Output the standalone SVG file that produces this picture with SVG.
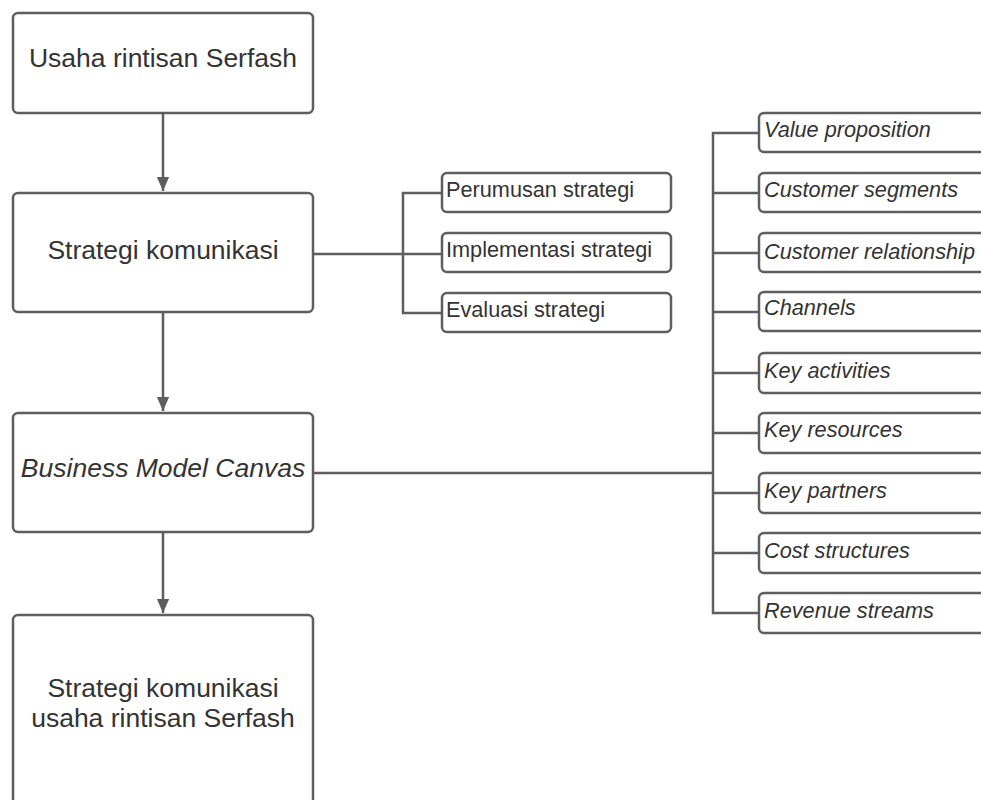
<svg xmlns="http://www.w3.org/2000/svg" width="981" height="800" viewBox="0 0 981 800">
<defs>
<style>
.box{fill:#fff;stroke:#5e5e5e;stroke-width:2.5}
.main{font-family:"Liberation Sans",Arial,sans-serif;font-size:26.5px;fill:#333;text-anchor:middle}
.small{font-family:"Liberation Sans",Arial,sans-serif;font-size:21.7px;fill:#333}
.it{font-style:italic}
.conn{fill:none;stroke:#5e5e5e;stroke-width:2.5}
</style>
<marker id="ah" markerWidth="14" markerHeight="17" refX="16" refY="7" orient="auto" markerUnits="userSpaceOnUse" viewBox="0 0 16 14">
<path d="M0,0 L16,7 L0,14 Z" fill="#5e5e5e"/>
</marker>
</defs>
<rect width="981" height="800" fill="#fff"/>
<g id="connectors">
<line class="conn" x1="163" y1="114" x2="163" y2="191" marker-end="url(#ah)"/>
<line class="conn" x1="163" y1="313" x2="163" y2="411" marker-end="url(#ah)"/>
<line class="conn" x1="163" y1="533" x2="163" y2="613" marker-end="url(#ah)"/>
<path class="conn" d="M313,254 H442 M442,193 H403 V313 H442"/>
<path class="conn" d="M313,473 H713 M759,133 H713 V613 H759 M713,193 H759 M713,253 H759 M713,312 H759 M713,373 H759 M713,433 H759 M713,493 H759 M713,553 H759"/>
</g>
<g id="n1"><rect class="box" x="13" y="13" width="300" height="100" rx="5"/><text class="main" x="163" y="67">Usaha rintisan Serfash</text></g>
<g id="n2"><rect class="box" x="13" y="193" width="300" height="119" rx="5"/><text class="main" x="163" y="259">Strategi komunikasi</text></g>
<g id="n3"><rect class="box" x="13" y="413" width="300" height="119" rx="5"/><text class="main it" x="163" y="477">Business Model Canvas</text></g>
<g id="n4"><rect class="box" x="13" y="615" width="300" height="200" rx="5"/><text class="main" x="163" y="697">Strategi komunikasi</text><text class="main" x="163" y="727">usaha rintisan Serfash</text></g>
<g id="s1"><rect class="box" x="442" y="173" width="229" height="39" rx="5"/><text class="small" x="446" y="197">Perumusan strategi</text></g>
<g id="s2"><rect class="box" x="442" y="233" width="229" height="39" rx="5"/><text class="small" x="446" y="257">Implementasi strategi</text></g>
<g id="s3"><rect class="box" x="442" y="293" width="229" height="39" rx="5"/><text class="small" x="446" y="317">Evaluasi strategi</text></g>
<g id="b1"><rect class="box" x="759" y="113" width="240" height="39" rx="5"/><text class="small it" x="764" y="137">Value proposition</text></g>
<g id="b2"><rect class="box" x="759" y="173" width="240" height="39" rx="5"/><text class="small it" x="764" y="197">Customer segments</text></g>
<g id="b3"><rect class="box" x="759" y="233" width="240" height="39" rx="5"/><text class="small it" x="764" y="259">Customer relationship</text></g>
<g id="b4"><rect class="box" x="759" y="292" width="240" height="39" rx="5"/><text class="small it" x="764" y="315">Channels</text></g>
<g id="b5"><rect class="box" x="759" y="353" width="240" height="40" rx="5"/><text class="small it" x="764" y="378">Key activities</text></g>
<g id="b6"><rect class="box" x="759" y="413" width="240" height="40" rx="5"/><text class="small it" x="764" y="437">Key resources</text></g>
<g id="b7"><rect class="box" x="759" y="473" width="240" height="40" rx="5"/><text class="small it" x="764" y="498">Key partners</text></g>
<g id="b8"><rect class="box" x="759" y="533" width="240" height="40" rx="5"/><text class="small it" x="764" y="558">Cost structures</text></g>
<g id="b9"><rect class="box" x="759" y="593" width="240" height="40" rx="5"/><text class="small it" x="764" y="618">Revenue streams</text></g>
</svg>
